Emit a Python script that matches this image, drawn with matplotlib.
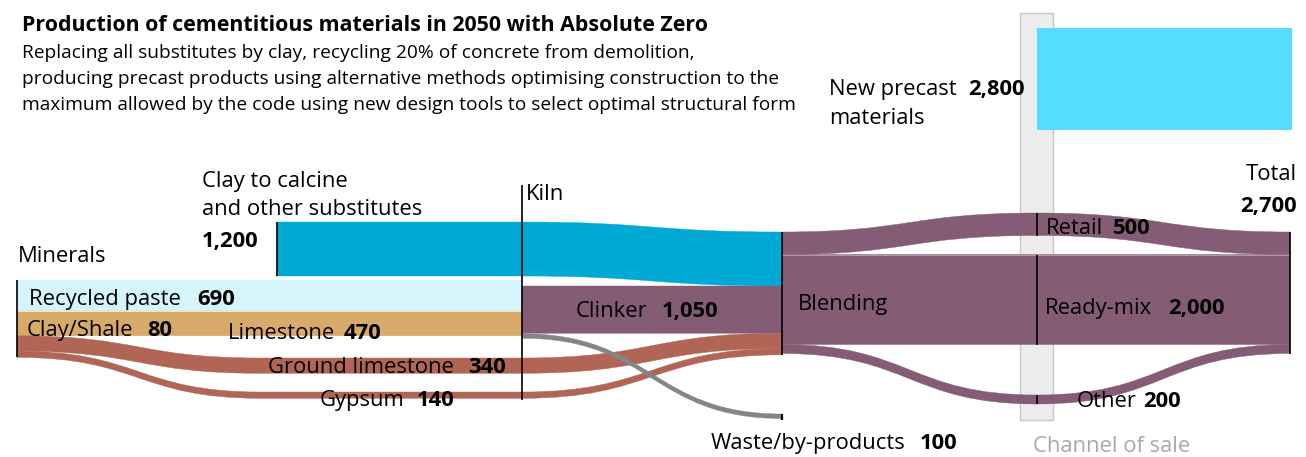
import matplotlib
matplotlib.use("Agg")
import matplotlib.pyplot as plt
from matplotlib.path import Path
from matplotlib.patches import PathPatch, Rectangle
from matplotlib import font_manager

# ---------------- data ----------------
title = "Production of cementitious materials in 2050 with Absolute Zero"
subtitle_lines = [
    "Replacing all substitutes by clay, recycling 20% of concrete from demolition,",
    "producing precast products using alternative methods optimising construction to the",
    "maximum allowed by the code using new design tools to select optimal structural form",
]
mineral_names = ["Recycled paste", "Clay/Shale", "Limestone", "Ground limestone", "Gypsum"]
mineral_values = [690, 80, 470, 340, 140]
substitute_lines = ["Clay to calcine", "and other substitutes"]
substitute_value = 1200
clinker_value = 1050
waste_name = "Waste/by-products"
waste_value = 100
channel_names = ["Retail", "Ready-mix", "Other"]
channel_values = [500, 2000, 200]
precast_lines = ["New precast", "materials"]
precast_value = 2800
total_value = 2700

# ---------------- fonts ----------------
available = {f.name for f in font_manager.fontManager.ttflist}
def pick(cands):
    for c in cands:
        if c in available:
            return c
    return "DejaVu Sans"
FONT = pick(["Open Sans", "Noto Sans", "Lato", "DejaVu Sans"])

# ---------------- colours ----------------
C_SUB = "#00aad4"
C_PASTE = "#d5f4fc"
C_TAN = "#d8aa6a"
C_BROWN = "#b06555"
C_PURPLE = "#845c75"
C_GREY = "#858585"
C_PRECAST = "#55dcff"
C_CHAN = "#ececec"

# ---------------- layout (pixels) ----------------
W, H = 1306, 457
S = 0.045               # px per unit of flow
S_PRECAST = 0.0365      # px per unit for precast block
X_MIN, X_SUB, X_MID, X_KILN, X_BLEND, X_CHAN, X_TOT = 17, 277, 260, 522, 782, 1037, 1290
Y_MIN_TOP = 280
Y_SUB_TOP = 222
Y_BLEND_TOP = 232
GL_MID_TOP = 358
GYP_MID_TOP = 392
WASTE_END_TOP = 414
RETAIL_CHAN_TOP = 213
OTHER_CHAN_TOP = 395

fig = plt.figure(figsize=(W / 100, H / 100), dpi=100)
ax = fig.add_axes([0, 0, 1, 1])
ax.set_xlim(0, W)
ax.set_ylim(H, 0)
ax.axis("off")


def band(points, w, color, z=2):
    verts = [points[0]]
    codes = [Path.MOVETO]
    for (x0, y0), (x1, y1) in zip(points[:-1], points[1:]):
        xm = (x0 + x1) / 2
        verts += [(xm, y0), (xm, y1), (x1, y1)]
        codes += [Path.CURVE4] * 3
    rev = [(x, y + w) for x, y in points[::-1]]
    verts.append(rev[0])
    codes.append(Path.LINETO)
    for (x0, y0), (x1, y1) in zip(rev[:-1], rev[1:]):
        xm = (x0 + x1) / 2
        verts += [(xm, y0), (xm, y1), (x1, y1)]
        codes += [Path.CURVE4] * 3
    verts.append(points[0])
    codes.append(Path.CLOSEPOLY)
    ax.add_patch(PathPatch(Path(verts, codes), facecolor=color, edgecolor=color,
                           lw=0.3, zorder=z))


def vline(x, y0, y1, lw=1.2):
    ax.plot([x, x], [y0, y1], color="black", lw=lw, zorder=4, solid_capstyle="butt")


# channel of sale backdrop
ax.add_patch(Rectangle((1020, 13), 33, 407, facecolor=C_CHAN, edgecolor="#c8c8c8",
                       lw=1, zorder=1))

# minerals stack
paste_w = mineral_values[0] * S
tan_w = (mineral_values[1] + mineral_values[2]) * S
gl_w = mineral_values[3] * S
gyp_w = mineral_values[4] * S
y_paste = Y_MIN_TOP
y_tan = y_paste + paste_w
y_gl = y_tan + tan_w
y_gyp = y_gl + gl_w

band([(X_MIN, y_paste), (X_KILN, y_paste)], paste_w, C_PASTE)
band([(X_MIN, y_tan), (X_KILN, y_tan)], tan_w, C_TAN)
ax.plot([X_MIN, X_KILN], [y_tan, y_tan], color="#f3e6cf", lw=0.8, zorder=3)

# substitutes
sub_w = substitute_value * S
clink_w = clinker_value * S
y_b_sub = Y_BLEND_TOP
y_b_clink = y_b_sub + sub_w
y_b_gl = y_b_clink + clink_w
y_b_gyp = y_b_gl + gl_w
band([(X_SUB, Y_SUB_TOP), (X_KILN, Y_SUB_TOP), (X_BLEND, y_b_sub)], sub_w, C_SUB)

# clinker
band([(X_KILN, y_b_clink), (X_BLEND, y_b_clink)], clink_w, C_PURPLE)

# ground limestone & gypsum bypass the kiln
band([(X_MIN, y_gl), (X_MID, GL_MID_TOP), (X_KILN, GL_MID_TOP), (X_BLEND, y_b_gl)], gl_w, C_BROWN)
band([(X_MIN, y_gyp), (X_MID, GYP_MID_TOP), (X_KILN, GYP_MID_TOP), (X_BLEND, y_b_gyp)], gyp_w, C_BROWN)

# waste
waste_w = waste_value * S
band([(X_KILN, y_b_clink + clink_w + 0.5), (X_BLEND, WASTE_END_TOP)], waste_w, C_GREY)

# blending outputs
ch_w = [v * S for v in channel_values]
y_out = [Y_BLEND_TOP]
for w_ in ch_w[:-1]:
    y_out.append(y_out[-1] + w_)
chan_tops = [RETAIL_CHAN_TOP, y_out[1], OTHER_CHAN_TOP]
for yo, yc, w_ in zip(y_out, chan_tops, ch_w):
    band([(X_BLEND, yo), (X_CHAN, yc), (X_TOT, yo)], w_, C_PURPLE)
ax.plot([X_BLEND, X_TOT], [y_out[1], y_out[1]], color="#b9a3b2", lw=0.6, zorder=3)

# precast block
ax.add_patch(Rectangle((X_CHAN, 28), X_TOT + 2 - X_CHAN, precast_value * S_PRECAST,
                       facecolor=C_PRECAST, edgecolor="none", zorder=2))

# node lines
vline(X_MIN, Y_MIN_TOP, y_gyp + gyp_w)
vline(X_SUB, Y_SUB_TOP, Y_SUB_TOP + sub_w)
vline(X_KILN, 185, 400)
vline(X_BLEND, Y_BLEND_TOP, y_b_gyp + gyp_w)
vline(X_BLEND, WASTE_END_TOP - 0.5, WASTE_END_TOP + waste_w + 1, lw=1.6)
for yc, w_ in zip(chan_tops, ch_w):
    vline(X_CHAN, yc, yc + w_)
vline(X_TOT, Y_BLEND_TOP, Y_BLEND_TOP + sum(ch_w))

# ---------------- text ----------------
renderer = fig.canvas.get_renderer()

def width_of(s, size, weight="normal"):
    t = ax.text(0, 0, s, fontsize=size, fontfamily=FONT, fontweight=weight)
    bb = t.get_window_extent(renderer)
    t.remove()
    return bb.width

title_size = 10 * 690 / width_of(title, 10, "bold")
sub_size = 10 * 775 / width_of(subtitle_lines[2], 10)
lab_size = 10 * 151 / width_of(mineral_names[0], 10)

ax.text(22, 31, title, fontsize=title_size, fontweight="bold", fontfamily=FONT,
        va="baseline", zorder=5)
for yb, line in zip([58, 84, 110], subtitle_lines):
    ax.text(22, yb, line, fontsize=sub_size, fontfamily=FONT, va="baseline", zorder=5)


def label(x, y, name, value=None, gap=14, ha="left", color="black"):
    t = ax.text(x, y, name, fontsize=lab_size, fontfamily=FONT, va="baseline",
                ha=ha, color=color, zorder=5)
    if value is not None:
        bb = t.get_window_extent(renderer)
        xe = ax.transData.inverted().transform((bb.x1, bb.y0))[0]
        ax.text(xe + gap, y, f"{value:,}", fontsize=lab_size, fontfamily=FONT,
                fontweight="bold", va="baseline", zorder=5)


label(202, 187, substitute_lines[0])
label(202, 215, substitute_lines[1])
ax.text(202, 247, f"{substitute_value:,}", fontsize=lab_size, fontfamily=FONT,
        fontweight="bold", va="baseline", zorder=5)
label(18, 262, "Minerals")
label(526, 200, "Kiln")
label(29, 305, mineral_names[0], mineral_values[0], gap=16)
label(27, 336, mineral_names[1], mineral_values[1])
label(228, 339, mineral_names[2], mineral_values[2], gap=8)
label(268, 373, mineral_names[3], mineral_values[3], gap=14)
label(320, 406, mineral_names[4], mineral_values[4], gap=12)
label(576, 317, "Clinker", clinker_value, gap=14)
label(711, 449, waste_name, waste_value, gap=14)
label(798, 310, "Blending")
label(829, 95, precast_lines[0], precast_value, gap=12)
label(829, 124, precast_lines[1])
label(1046, 234, channel_names[0], channel_values[0], gap=10)
label(1045, 314, channel_names[1], channel_values[1], gap=16)
label(1077, 407, channel_names[2], channel_values[2], gap=6)
ax.text(1297, 180, "Total", fontsize=lab_size, fontfamily=FONT, ha="right",
        va="baseline", zorder=5)
ax.text(1297, 212, f"{total_value:,}", fontsize=lab_size, fontfamily=FONT, ha="right",
        fontweight="bold", va="baseline", zorder=5)
label(1033, 452, "Channel of sale", color="#a8a8a8")

fig.savefig("out.png", dpi=100)
